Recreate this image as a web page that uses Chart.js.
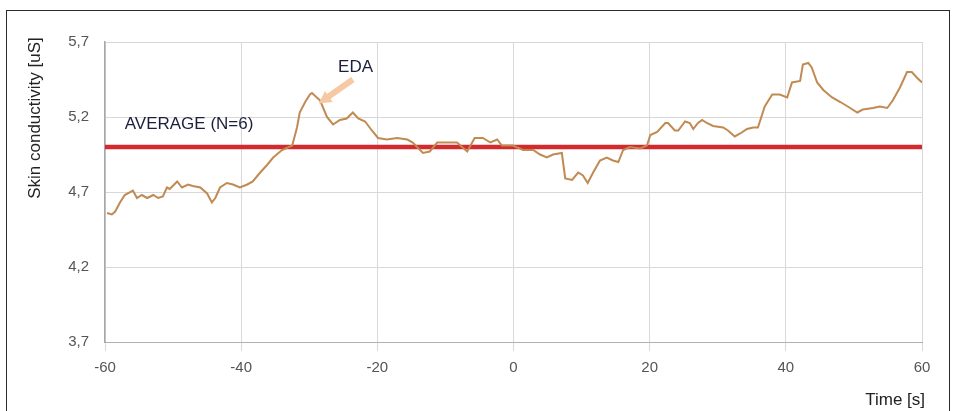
<!DOCTYPE html>
<html>
<head>
<meta charset="utf-8">
<script src="https://cdn.jsdelivr.net/npm/chart.js@4.4.1/dist/chart.umd.min.js"></script>
<style>
  html, body { margin: 0; padding: 0; background: #ffffff; }
  #wrap { position: relative; width: 956px; height: 411px; overflow: hidden; }
  #frame { position: absolute; left: 6px; top: 10px; width: 944px; height: 420px;
           border: 1.5px solid #2b2b2b; box-sizing: border-box; pointer-events: none; }
  canvas { position: absolute; left: 0; top: 0; }
</style>
</head>
<body>
<div id="wrap">
  <canvas id="c" width="956" height="411"></canvas>
  <div id="frame"></div>
</div>
<script>
// Time axis (s) relative to the event
const times = [
  -59.7, -59.0, -58.5, -57.8, -57.1, -55.9, -55.3, -54.6, -53.8, -52.9,
  -52.2, -51.5, -50.9, -50.5, -49.4, -48.7, -47.8, -47.1, -46.0, -45.0,
  -44.3, -43.8, -43.1, -42.1, -41.2, -40.2, -39.1, -38.3, -37.2, -36.2,
  -35.3, -34.0, -32.5, -31.8, -31.4, -30.6, -29.9, -29.6, -28.4, -27.4,
  -26.5, -25.5, -24.5, -23.6, -22.8, -21.8, -20.8, -19.9, -18.6, -17.1,
  -15.6, -14.8, -13.3, -12.3, -11.2, -9.8, -8.3, -6.8, -5.7, -4.5,
  -3.4, -2.4, -1.7, -0.1, 1.4, 2.9, 3.9, 4.9, 5.8, 7.1,
  7.6, 8.6, 9.5, 10.2, 10.9, 11.7, 12.7, 13.7, 14.6, 15.4,
  16.1, 17.1, 18.6, 19.6, 20.1, 21.1, 22.3, 22.7, 23.7, 24.2,
  25.2, 25.9, 26.4, 27.1, 27.7, 28.4, 29.3, 30.8, 31.5, 32.5,
  33.3, 34.3, 35.2, 35.9, 36.9, 38.0, 39.1, 40.2, 40.9, 42.1,
  42.5, 43.3, 43.8, 44.6, 45.5, 46.8, 48.0, 49.1, 50.5, 51.3,
  52.8, 53.8, 54.9, 55.7, 56.8, 57.8, 58.5, 59.3, 60.0
];

// Mean skin conductance (uS)
const conductance = [
  4.56, 4.55, 4.57, 4.63, 4.68, 4.71, 4.66, 4.68, 4.66, 4.68,
  4.66, 4.67, 4.73, 4.72, 4.77, 4.73, 4.75, 4.74, 4.73, 4.69,
  4.63, 4.66, 4.73, 4.76, 4.75, 4.73, 4.75, 4.77, 4.83, 4.88,
  4.93, 4.98, 5.01, 5.13, 5.23, 5.30, 5.35, 5.36, 5.31, 5.20,
  5.15, 5.18, 5.19, 5.23, 5.19, 5.17, 5.11, 5.06, 5.05, 5.06,
  5.05, 5.03, 4.96, 4.97, 5.03, 5.03, 5.03, 4.97, 5.06, 5.06,
  5.03, 5.05, 5.01, 5.01, 4.98, 4.98, 4.95, 4.93, 4.95, 4.96,
  4.79, 4.78, 4.83, 4.81, 4.76, 4.83, 4.91, 4.93, 4.91, 4.90,
  4.98, 5.00, 4.99, 5.01, 5.08, 5.10, 5.16, 5.16, 5.11, 5.11,
  5.17, 5.16, 5.12, 5.16, 5.18, 5.16, 5.14, 5.13, 5.11, 5.07,
  5.09, 5.12, 5.13, 5.13, 5.27, 5.35, 5.35, 5.33, 5.43, 5.44,
  5.55, 5.56, 5.53, 5.43, 5.38, 5.33, 5.30, 5.27, 5.23, 5.25,
  5.26, 5.27, 5.26, 5.31, 5.40, 5.50, 5.50, 5.46, 5.43
];

// Group average across subjects
const averageLevel = 5.0;
const averageLabel = 'AVERAGE (N=6)';
const peakLabel = 'EDA';

// Axis ticks
const xTicks = [-60, -40, -20, 0, 20, 40, 60];
const yTicks = [3.7, 4.2, 4.7, 5.2, 5.7];
const yTickLabels = ['3,7', '4,2', '4,7', '5,2', '5,7'];

const FONT = '"Liberation Sans", Arial, sans-serif';

// Text labels, the EDA arrow and the axis titles
const annotate = {
  id: 'annotate',
  afterDatasetsDraw(chart) {
    const { ctx, scales: { x, y } } = chart;
    ctx.save();
    ctx.font = '17px ' + FONT;
    ctx.fillStyle = '#1b1f3b';
    ctx.textBaseline = 'middle';
    ctx.textAlign = 'left';
    ctx.fillText(averageLabel, x.getPixelForValue(-57.1), y.getPixelForValue(5.15));

    ctx.textAlign = 'center';
    ctx.fillText(peakLabel, x.getPixelForValue(-23.2), y.getPixelForValue(5.53));

    // arrow from the label down to the peak
    const x0 = x.getPixelForValue(-23.6), y0 = y.getPixelForValue(5.45);
    const x1 = x.getPixelForValue(-28.6), y1 = y.getPixelForValue(5.29);
    const ang = Math.atan2(y1 - y0, x1 - x0);
    const head = 14;
    ctx.strokeStyle = '#f6c9a2';
    ctx.fillStyle = '#f6c9a2';
    ctx.lineWidth = 6;
    ctx.beginPath();
    ctx.moveTo(x0, y0);
    ctx.lineTo(x1 - Math.cos(ang) * head * 0.8, y1 - Math.sin(ang) * head * 0.8);
    ctx.stroke();
    ctx.beginPath();
    ctx.moveTo(x1, y1);
    ctx.lineTo(x1 - Math.cos(ang - 0.5) * head, y1 - Math.sin(ang - 0.5) * head);
    ctx.lineTo(x1 - Math.cos(ang + 0.5) * head, y1 - Math.sin(ang + 0.5) * head);
    ctx.closePath();
    ctx.fill();

    // y axis title
    ctx.save();
    ctx.translate(35, 118);
    ctx.rotate(-Math.PI / 2);
    ctx.font = '17px ' + FONT;
    ctx.fillStyle = '#222222';
    ctx.textAlign = 'center';
    ctx.textBaseline = 'middle';
    ctx.fillText('Skin conductivity [uS]', 0, 0);
    ctx.restore();

    // x axis title
    ctx.font = '17px ' + FONT;
    ctx.fillStyle = '#222222';
    ctx.textAlign = 'right';
    ctx.textBaseline = 'middle';
    ctx.fillText('Time [s]', 925, 400);
    ctx.restore();
  }
};

new Chart(document.getElementById('c'), {
  type: 'line',
  data: {
    datasets: [
      {
        label: averageLabel,
        data: [{ x: xTicks[0], y: averageLevel }, { x: xTicks[xTicks.length - 1], y: averageLevel }],
        borderColor: '#d22a2d',
        borderWidth: 4.5,
        pointRadius: 0,
        order: 1
      },
      {
        label: peakLabel,
        data: times.map((t, i) => ({ x: t, y: conductance[i] })),
        borderColor: '#c18a52',
        borderWidth: 2,
        pointRadius: 0,
        tension: 0,
        order: 0
      }
    ]
  },
  options: {
    responsive: false,
    animation: false,
    events: [],
    layout: { padding: { top: 42, right: 34, left: 0, bottom: 0 } },
    plugins: { legend: { display: false }, tooltip: { enabled: false } },
    scales: {
      x: {
        type: 'linear',
        min: -60, max: 60,
        afterBuildTicks(s) { s.ticks = xTicks.map(v => ({ value: v })); },
        afterFit(s) { s.height = 69; },
        grid: { color: '#d8d8d8', lineWidth: 1, tickLength: 9, drawOnChartArea: true },
        border: { color: '#b0b0b0', width: 1 },
        ticks: {
          color: '#555555', font: { family: FONT, size: 15 }, padding: 8,
          maxRotation: 0,
          callback: v => String(v)
        }
      },
      y: {
        type: 'linear',
        min: 3.7, max: 5.7,
        afterBuildTicks(s) { s.ticks = yTicks.map(v => ({ value: v })); },
        afterFit(s) { s.width = 105; },
        grid: { color: '#d8d8d8', lineWidth: 1, drawTicks: false },
        border: { color: '#a8a8a8', width: 1.5 },
        ticks: {
          color: '#555555', font: { family: FONT, size: 15 }, padding: 16,
          callback: (v) => { const i = yTicks.findIndex(t => Math.abs(t - v) < 1e-6); return i >= 0 ? yTickLabels[i] : ''; }
        }
      }
    }
  },
  plugins: [annotate]
});
</script>
</body>
</html>
